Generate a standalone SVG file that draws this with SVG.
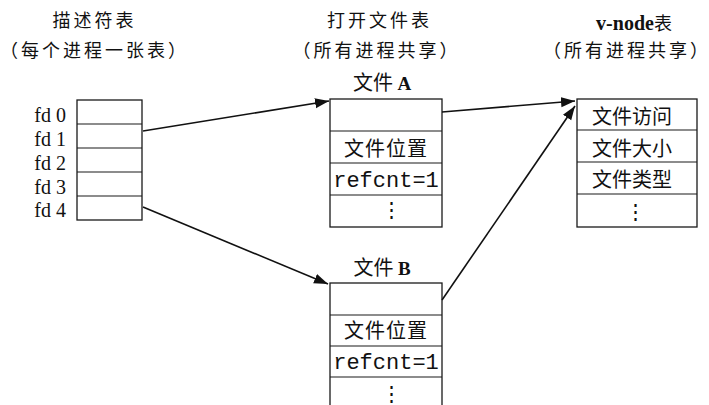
<svg xmlns="http://www.w3.org/2000/svg" width="709" height="405" viewBox="0 0 709 405">
<style>
.box{fill:#fff;stroke:#1a1a1a;stroke-width:1.3}
.sep{stroke:#1a1a1a;stroke-width:1.2}
.hd{font-family:"Noto Sans CJK SC","Noto Sans CJK JP",sans-serif;font-size:18px;letter-spacing:3px;fill:#111;text-anchor:middle}
.cj{font-family:"Noto Sans CJK SC","Noto Sans CJK JP",sans-serif;font-size:20px;fill:#111;text-anchor:middle}
.lat{font-family:"Liberation Serif","Noto Sans CJK SC",serif;fill:#111}
.mono{font-family:"Liberation Mono",monospace;font-size:22px;fill:#111;text-anchor:middle}
.dots{font-family:"Noto Sans CJK SC",sans-serif;font-size:21px;fill:#111;text-anchor:middle}
.conn{stroke:#111;stroke-width:1.6;fill:none}
</style>
<defs>
<marker id="ah" markerUnits="userSpaceOnUse" markerWidth="15" markerHeight="11" refX="14" refY="5" orient="auto">
<path d="M0,0 L14,5 L0,10 Z" fill="#111"/>
</marker>
</defs>
<rect width="709" height="405" fill="#fff"/>

<g id="headers">
<text class="hd" x="94.5" y="27">描述符表</text>
<text class="hd" x="94.5" y="57">（每个进程一张表）</text>
<text class="hd" x="379.5" y="27">打开文件表</text>
<text class="hd" x="376.5" y="57">（所有进程共享）</text>
<text class="lat" x="634" y="30" font-size="20" text-anchor="middle" font-weight="bold">v-node<tspan font-family="Noto Sans CJK SC, sans-serif" font-size="18" font-weight="normal">表</tspan></text>
<text class="hd" x="627" y="57" letter-spacing="2.5">（所有进程共享）</text>
</g>

<g id="descriptor-table">
<rect class="box" x="77" y="100" width="65" height="120"/>
<line class="sep" x1="77" y1="124" x2="142" y2="124"/>
<line class="sep" x1="77" y1="148" x2="142" y2="148"/>
<line class="sep" x1="77" y1="172" x2="142" y2="172"/>
<line class="sep" x1="77" y1="196" x2="142" y2="196"/>
<g class="lat" font-size="20" text-anchor="end">
<text x="66" y="122">fd 0</text>
<text x="66" y="146">fd 1</text>
<text x="66" y="170">fd 2</text>
<text x="66" y="194">fd 3</text>
<text x="66" y="217">fd 4</text>
</g>
</g>

<g id="file-a">
<text class="cj" x="382" y="90" font-size="18">文件 <tspan font-family="Liberation Serif, serif" font-size="19" font-weight="bold">A</tspan></text>
<rect class="box" x="330" y="99" width="112" height="128"/>
<line class="sep" x1="330" y1="131" x2="442" y2="131"/>
<line class="sep" x1="330" y1="163" x2="442" y2="163"/>
<line class="sep" x1="330" y1="195" x2="442" y2="195"/>
<text class="cj" x="386" y="156" letter-spacing="1">文件位置</text>
<text class="mono" x="386" y="187">refcnt=1</text>
<text class="dots" x="391" y="217">⋮</text>
</g>

<g id="file-b">
<text class="cj" x="382" y="275" font-size="18">文件 <tspan font-family="Liberation Serif, serif" font-size="19" font-weight="bold">B</tspan></text>
<rect class="box" x="330" y="283" width="112" height="130"/>
<line class="sep" x1="330" y1="315" x2="442" y2="315"/>
<line class="sep" x1="330" y1="346" x2="442" y2="346"/>
<line class="sep" x1="330" y1="377" x2="442" y2="377"/>
<text class="cj" x="386" y="338" letter-spacing="1">文件位置</text>
<text class="mono" x="386" y="369">refcnt=1</text>
<text class="dots" x="391" y="401">⋮</text>
</g>

<g id="vnode-table">
<rect class="box" x="577" y="99" width="120" height="128"/>
<line class="sep" x1="577" y1="130" x2="697" y2="130"/>
<line class="sep" x1="577" y1="162" x2="697" y2="162"/>
<line class="sep" x1="577" y1="194" x2="697" y2="194"/>
<text class="cj" x="632" y="124">文件访问</text>
<text class="cj" x="632" y="156">文件大小</text>
<text class="cj" x="632" y="187">文件类型</text>
<text class="dots" x="635" y="219">⋮</text>
</g>

<g id="connectors">
<path class="conn" d="M143,131 L329,101" marker-end="url(#ah)"/>
<path class="conn" d="M143,207 L328,284" marker-end="url(#ah)"/>
<path class="conn" d="M442,112 L575,101" marker-end="url(#ah)"/>
<path class="conn" d="M442,300 L575,106" marker-end="url(#ah)"/>
</g>
</svg>
